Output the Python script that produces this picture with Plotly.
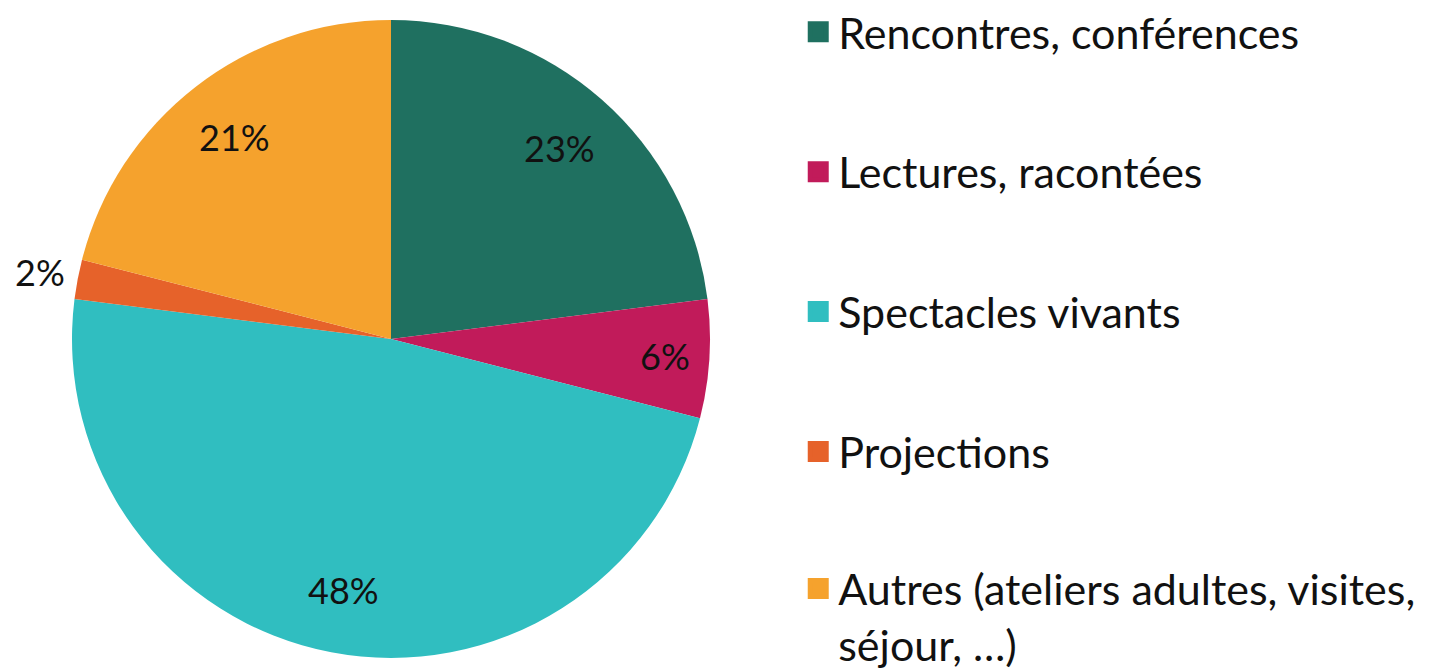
import math
import plotly.graph_objects as go

labels = ["Rencontres, conférences", "Lectures, racontées", "Spectacles vivants",
          "Projections", "Autres (ateliers adultes, visites,<br>séjour, …)"]
values = [23, 6, 48, 2, 21]
colors = ["#1F7060", "#C11B5A", "#30BEC0", "#E6622A", "#F5A22D"]
# label distance from centre, as a fraction of the radius (style)
label_radius = [0.80, 0.86, 0.80, 1.12, 0.80]
# which legend box each entry goes to (style: the last entry wraps on two lines)
legend_ids = ["legend", "legend", "legend", "legend", "legend2"]

FONT = "Lato"
W, H = 1429, 670
CX, CY, R = 383, 331, 319  # pie centre / radius in figure pixels

fig = go.Figure()
fig.add_trace(go.Pie(
    labels=labels, values=values, sort=False, direction="clockwise", rotation=0,
    marker=dict(colors=colors, line=dict(width=0)),
    textinfo="none", showlegend=False, hoverinfo="label+percent",
    domain=dict(x=[(CX - R) / W, (CX + R) / W], y=[1 - (CY + R) / H, 1 - (CY - R) / H]),
))

total = sum(values)
cum = 0
for v, fr in zip(values, label_radius):
    mid = (cum + v / 2) / total * 2 * math.pi
    cum += v
    dx = math.sin(mid) * R * fr
    dy = -math.cos(mid) * R * fr
    fig.add_annotation(
        x=(CX + dx) / W, y=1 - (CY + dy) / H, xref="paper", yref="paper",
        text=f"{round(v / total * 100)}%", showarrow=False,
        xanchor="center", yanchor="middle",
        font=dict(family=FONT, size=36, color="#111111"),
    )

for i, (lab, col, lg) in enumerate(zip(labels, colors, legend_ids)):
    fig.add_trace(go.Scatter(
        x=[None], y=[None], mode="markers", name=lab,
        marker=dict(symbol="square", size=16, color=col, line=dict(color=col, width=5)),
        legendgroup=f"g{i}", legend=lg, showlegend=True, hoverinfo="skip",
    ))

legend_style = dict(xanchor="left", yanchor="top", maxheight=900,
                    font=dict(family=FONT, size=43, color="#111111"),
                    valign="top", itemwidth=30, bgcolor="rgba(0,0,0,0)")

fig.update_layout(
    width=W, height=H,
    margin=dict(l=0, r=0, t=0, b=0, autoexpand=False),
    paper_bgcolor="white", plot_bgcolor="white",
    xaxis=dict(visible=False), yaxis=dict(visible=False),
    font=dict(family=FONT, color="#111111"),
    legend=dict(x=0.553, y=1.016, tracegroupgap=81, **legend_style),
    legend2=dict(x=0.553, y=0.185, **legend_style),
)

fig.write_html("out.html")
